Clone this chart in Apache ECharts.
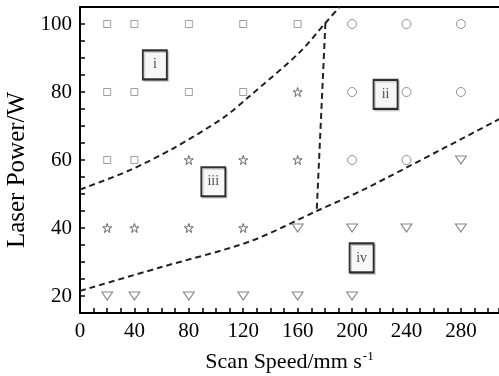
<!DOCTYPE html>
<html>
<head>
<meta charset="utf-8">
<script src="https://cdn.jsdelivr.net/npm/echarts@6/dist/echarts.min.js"></script>
<style>
  html, body { margin: 0; padding: 0; background: #fff; }
  #chart { width: 499px; height: 376px; }
</style>
</head>
<body>
<div id="chart"></div>
<script>
// measured points, [scan speed, laser power]
const squarePts = [[20, 100], [40, 100], [80, 100], [120, 100], [160, 100],
  [20, 80], [40, 80], [80, 80], [120, 80],
  [20, 60], [40, 60]]
const circlePts = [[200, 100], [240, 100], [280, 100],
  [200, 80], [240, 80], [280, 80],
  [200, 60], [240, 60]]
const starPts = [[160, 80], [80, 60], [120, 60], [160, 60],
  [20, 40], [40, 40], [80, 40], [120, 40]]
const trianglePts = [[280, 60], [160, 40], [200, 40], [240, 40], [280, 40],
  [20, 20], [40, 20], [80, 20], [120, 20], [160, 20], [200, 20]]

// dashed boundaries
const boundaryA = [[0, 51.3], [36, 56.9], [68, 63.3], [106, 72.6], [124.4, 78.7], [161, 91.5], [180.4, 100.3], [190.7, 105]]
const boundaryB = [[180.4, 100.3], [174, 45]]
const boundaryC = [[0, 21.5], [58, 28.3], [124.5, 36], [174, 45], [210, 51.6], [308, 72]]

// region labels
const regionNames = ['i', 'ii', 'iii', 'iv']
const regionX = [55, 224.6, 98, 207]
const regionY = [88, 79.3, 53.6, 31.2]

const xTickLabels = [0, 40, 80, 120, 160, 200, 240, 280]
const yTickLabels = [20, 40, 60, 80, 100]

const starPath = 'path://M50,5 L61,38 L95,38 L67,58 L78,92 L50,71 L22,92 L33,58 L5,38 L39,38 Z'
const serif = 'Liberation Serif'

const chart = echarts.init(document.getElementById('chart'))

const markerStyle = col => ({ color: '#fff', borderColor: col, borderWidth: 1 })
const dashStyle = { color: '#222', width: 2, type: [6, 4] }

chart.setOption({
  animation: false,
  grid: { left: 80, top: 7, right: 0, bottom: 63, containLabel: false, outerBoundsMode: 'none' },
  xAxis: [
    {
      type: 'value',
      min: 0,
      max: 308,
      interval: 10,
      name: 'Scan Speed/mm s{sup|-1}',
      nameLocation: 'middle',
      nameGap: 37,
      nameTextStyle: {
        fontFamily: serif, fontSize: 22, color: '#000',
        rich: { sup: { fontFamily: serif, fontSize: 13, color: '#000', padding: [0, 0, 12, 1] } }
      },
      axisLine: { lineStyle: { color: '#000', width: 2 } },
      axisTick: { inside: true, length: 5, lineStyle: { color: '#000', width: 1.5 } },
      axisLabel: {
        fontFamily: serif, fontSize: 21, color: '#000', margin: 8,
        formatter: v => (xTickLabels.indexOf(v) >= 0 ? String(v) : '')
      },
      splitLine: { show: false }
    },
    {
      type: 'value',
      position: 'top',
      min: 0,
      max: 308,
      axisLine: { show: true, lineStyle: { color: '#000', width: 2 } },
      axisTick: { show: false },
      axisLabel: { show: false },
      splitLine: { show: false }
    }
  ],
  yAxis: {
    type: 'value',
    min: 15,
    max: 105,
    interval: 5,
    name: 'Laser Power/W',
    nameLocation: 'middle',
    nameGap: 41,
    nameTextStyle: { fontFamily: serif, fontSize: 25, color: '#000', padding: [0, 20, 0, 0] },
    axisLine: { show: true, lineStyle: { color: '#000', width: 2 } },
    axisTick: { inside: true, length: 5, lineStyle: { color: '#000', width: 1.5 } },
    axisLabel: {
      fontFamily: serif, fontSize: 21, color: '#000', margin: 8,
      formatter: v => (yTickLabels.indexOf(v) >= 0 ? String(v) : '')
    },
    splitLine: { show: false }
  },
  series: [
    { type: 'line', data: boundaryA, smooth: 0.3, symbol: 'none', lineStyle: dashStyle, z: 2 },
    { type: 'line', data: boundaryB, symbol: 'none', lineStyle: dashStyle, z: 2 },
    { type: 'line', data: boundaryC, smooth: 0.3, symbol: 'none', lineStyle: dashStyle, z: 2 },
    { type: 'scatter', data: squarePts, symbol: 'rect', symbolSize: 7, itemStyle: markerStyle('#888'), z: 3 },
    { type: 'scatter', data: circlePts, symbol: 'circle', symbolSize: 9, itemStyle: markerStyle('#777'), z: 3 },
    { type: 'scatter', data: starPts, symbol: starPath, symbolSize: 9, itemStyle: markerStyle('#444'), z: 3 },
    { type: 'scatter', data: trianglePts, symbol: 'triangle', symbolRotate: 180, symbolSize: [11, 8], itemStyle: markerStyle('#666'), z: 3 },
    {
      type: 'scatter',
      data: regionNames.map((n, i) => ({ name: n, value: [regionX[i], regionY[i]] })),
      symbol: 'rect',
      symbolSize: [24, 29],
      itemStyle: {
        color: '#fff', borderColor: '#000', borderWidth: 2,
        shadowColor: 'rgba(0,0,0,0.2)', shadowOffsetX: 1.5, shadowOffsetY: 1.5, shadowBlur: 0
      },
      label: {
        show: true, position: 'inside', formatter: p => p.name,
        fontFamily: serif, fontSize: 14, color: '#222'
      },
      z: 4
    }
  ]
})
</script>
</body>
</html>
